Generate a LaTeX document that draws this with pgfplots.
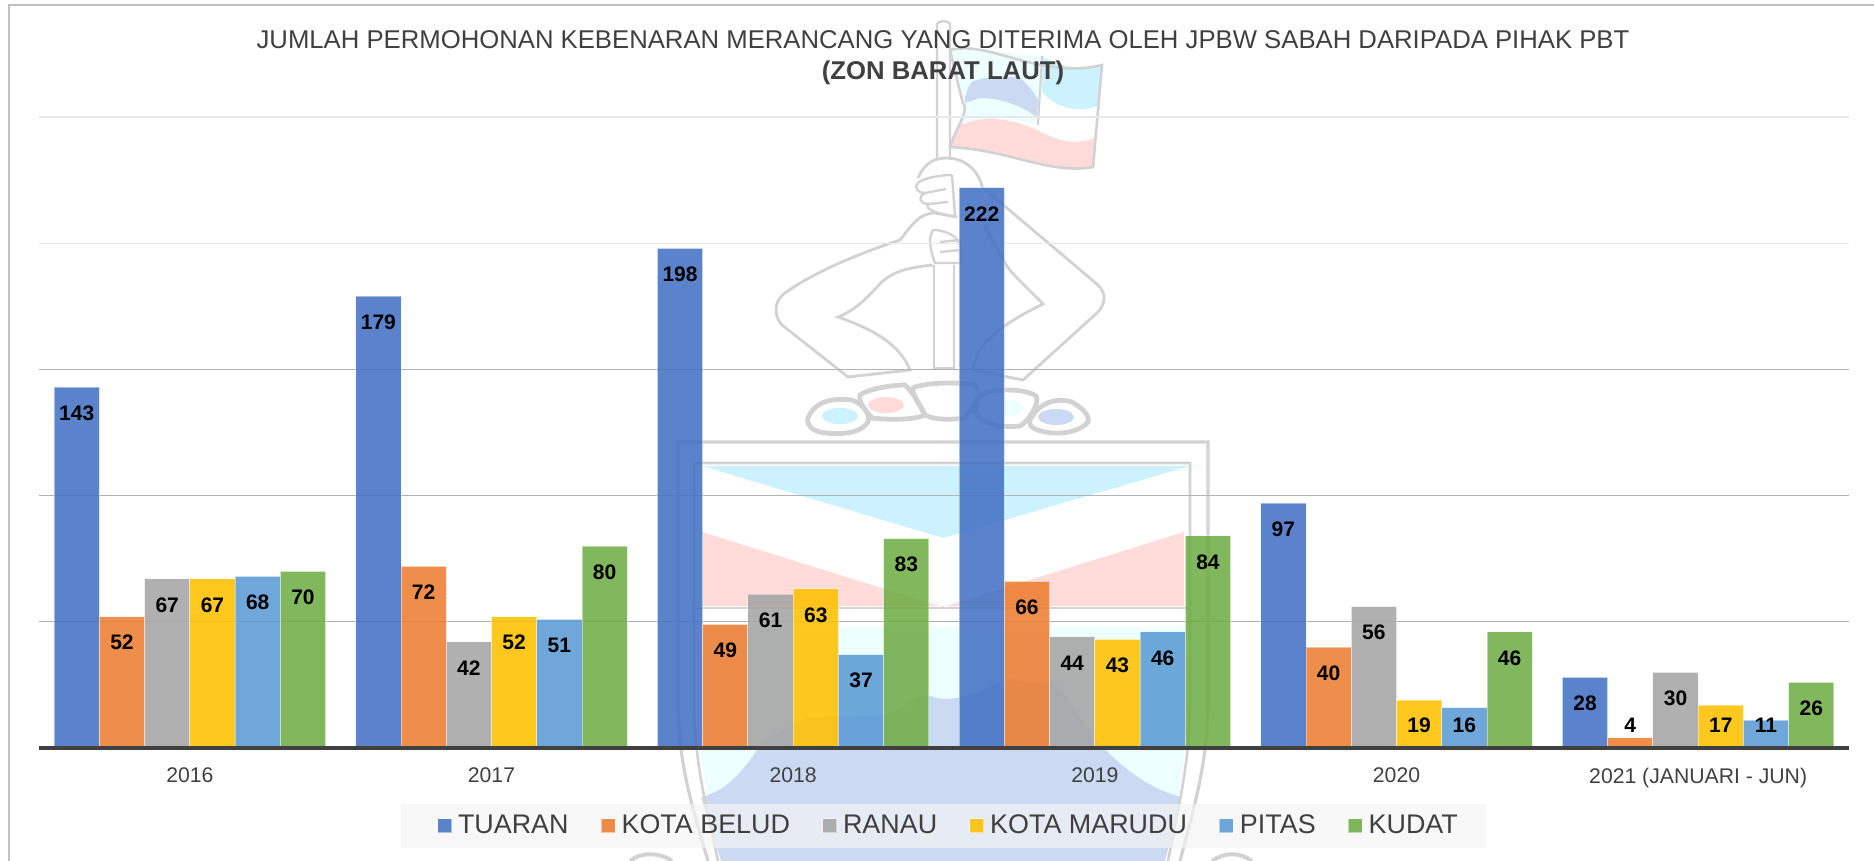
\documentclass[border=0pt]{standalone}
\usepackage{pgfplots}
\pgfplotsset{compat=1.18}
\usepackage{fontspec}
\setmainfont{Liberation Sans}
\definecolor{txt}{HTML}{404040}
\definecolor{cTua}{HTML}{4472C4}
\definecolor{cBel}{HTML}{ED7D31}
\definecolor{cRan}{HTML}{A5A5A5}
\definecolor{cMar}{HTML}{FFC000}
\definecolor{cPit}{HTML}{5B9BD5}
\definecolor{cKud}{HTML}{70AD47}
\definecolor{wl}{HTML}{D2D2D2}
\definecolor{wsky}{HTML}{CCF2FF}
\definecolor{wpink}{HTML}{FFDCDA}
\definecolor{wcy}{HTML}{EEFFFF}
\definecolor{wblue}{HTML}{CBD9F3}
\pgfplotsset{
  sq/.style={legend image code/.code={\fill[##1,draw=white,draw opacity=0.5,line width=0.5pt] (0pt,-3.5pt) rectangle (7pt,3.5pt); \path (8pt,0pt);}},
  sqfirst/.style={legend image code/.code={\fill[##1,draw=white,draw opacity=0.5,line width=0.5pt] (0pt,-3.5pt) rectangle (7pt,3.5pt); \path (-6pt,0pt) (8pt,0pt);}},
  barsty/.style={sq,fill=#1,fill opacity=0.88,draw=white,draw opacity=0.45,line width=0.5pt,text opacity=1}
}
\begin{document}
\begin{tikzpicture}[x=0.5pt,y=-0.5pt]
\path[use as bounding box] (0,0) rectangle (1874,861);
% watermark emblem
\begin{scope}
\clip (0,0) rectangle (1874,861);
% shield interior
\fill[wcy] (702,627) -- (1184,627) -- (1188,700) .. controls (1186,760) and (1178,810) .. (1165,861) -- (721,861) .. controls (708,810) and (700,760) .. (698,700) -- cycle;
\fill[wblue] (701,797) .. controls (725,792) and (742,772) .. (755,753) .. controls (765,738) and (772,733) .. (778,733) .. controls (790,728) and (800,717) .. (814,717) .. controls (850,716) and (880,716) .. (893,713) .. controls (905,705) and (918,695) .. (928,695) .. controls (940,700) and (948,699) .. (956,698) .. controls (980,695) and (1000,680) .. (1010,678) .. controls (1025,684) and (1045,680) .. (1059,685) .. controls (1070,700) and (1090,735) .. (1106,750) .. controls (1130,775) and (1155,790) .. (1181,797) -- (1165,861) -- (721,861) -- cycle;
\fill[wsky] (702,466) -- (1190,466) -- (943,538) -- cycle;
\fill[wpink] (702,532) -- (943,607) -- (1184,532) -- (1184,606) -- (702,606) -- cycle;
% shield lines
\draw[wl,line width=1.6pt] (708,861) .. controls (690,800) and (678,760) .. (678,700) -- (678,442) -- (1208,442) -- (1208,700) .. controls (1208,760) and (1196,800) .. (1180,861);
\draw[wl,line width=1.3pt] (718,861) .. controls (705,800) and (694,760) .. (694,700) -- (694,463) -- (1190,463) -- (1190,700) .. controls (1190,760) and (1180,800) .. (1168,861);
\draw[wl,line width=1.3pt] (694,608) -- (1190,608);
\draw[wl,line width=2pt] (630,861) .. controls (640,852) and (660,852) .. (672,861);
\draw[wl,line width=2pt] (1212,861) .. controls (1224,852) and (1240,852) .. (1252,861);
% stones
\draw[wl,line width=2.4pt] (808,418) .. controls (815,400) and (835,398) .. (852,400) .. controls (865,405) and (870,415) .. (868,422) .. controls (860,435) and (835,435) .. (820,432) .. controls (812,430) and (806,425) .. (808,418) -- cycle;
\draw[wl,line width=2.4pt] (860,395) .. controls (870,388) and (895,385) .. (905,385) .. controls (915,395) and (920,405) .. (925,415) .. controls (915,420) and (890,420) .. (872,418) .. controls (865,410) and (858,402) .. (860,395) -- cycle;
\draw[wl,line width=2.4pt] (913,388) .. controls (925,382) and (960,382) .. (975,385) .. controls (985,392) and (970,412) .. (965,418) .. controls (950,420) and (935,420) .. (925,415) .. controls (920,405) and (912,395) .. (913,388) -- cycle;
\draw[wl,line width=2.4pt] (980,396) .. controls (990,388) and (1025,388) .. (1036,396) .. controls (1040,402) and (1030,420) .. (1020,426) .. controls (1000,428) and (985,425) .. (977,415) .. controls (974,408) and (976,400) .. (980,396) -- cycle;
\draw[wl,line width=2.4pt] (1030,420) .. controls (1040,400) and (1060,398) .. (1072,402) .. controls (1082,408) and (1090,415) .. (1088,422) .. controls (1080,432) and (1060,435) .. (1045,432) .. controls (1037,430) and (1028,428) .. (1030,420) -- cycle;
\fill[wsky] (840,416) ellipse (18 and 8);
\fill[wpink] (886,405) ellipse (18 and 8);
\fill[wcy] (1010,408) ellipse (14 and 8);
\fill[wblue] (1056,417) ellipse (18 and 8);
% flag
\fill[white] (950,50) .. controls (990,40) and (1040,80) .. (1102,65) -- (1093,167) .. controls (1050,175) and (1010,150) .. (950,147) .. controls (955,130) and (970,110) .. (963,103) .. controls (958,85) and (955,70) .. (950,50) -- cycle;
\fill[wcy] (950,50) .. controls (980,45) and (1015,55) .. (1042,56) -- (1038,125) .. controls (1020,120) and (990,115) .. (960,125) .. controls (962,115) and (968,110) .. (963,103) .. controls (958,85) and (955,70) .. (950,50) -- cycle;
\fill[wblue] (965,98) .. controls (968,85) and (972,80) .. (977,80) .. controls (990,76) and (1010,76) .. (1020,78) .. controls (1028,85) and (1034,92) .. (1038,100) -- (1037,117) .. controls (1020,105) and (1000,98) .. (980,98) -- (965,103) -- cycle;
\fill[wsky] (1042,56) .. controls (1060,68) and (1085,70) .. (1102,65) -- (1098,105) .. controls (1085,112) and (1060,112) .. (1042,92) -- cycle;
\fill[wpink] (960,125) .. controls (985,115) and (1010,118) .. (1037,130) .. controls (1060,142) and (1075,145) .. (1095,138) -- (1093,167) .. controls (1050,175) and (1010,150) .. (950,147) -- cycle;
\draw[wl,line width=1.3pt] (950,50) .. controls (990,40) and (1040,80) .. (1102,65) -- (1093,167) .. controls (1050,175) and (1010,150) .. (950,147) .. controls (955,130) and (970,110) .. (963,103) .. controls (958,85) and (955,70) .. (950,50) -- cycle;
\draw[wl,line width=1pt] (1042,56) -- (1038,125);
% pole
\draw[wl,line width=1.2pt] (937,160) -- (937,25) .. controls (937,20) and (950,20) .. (950,25) -- (950,160);
\draw[wl,line width=1.2pt] (934,265) -- (934,368) -- (954,368) -- (954,265);
% fist and hands
\draw[wl,line width=1.4pt] (918,178) .. controls (925,162) and (935,158) .. (947,158) .. controls (962,158) and (978,168) .. (982,187);
\draw[wl,line width=1.2pt] (952,175) .. controls (940,175) and (925,178) .. (919,182) .. controls (913,187) and (917,193) .. (925,193) .. controls (917,197) and (920,204) .. (928,204) .. controls (925,208) and (932,213) .. (957,217);
\draw[wl,line width=1.2pt] (925,193) -- (946,189) (928,204) -- (948,202) (952,175) -- (955,215);
\draw[wl,line width=1.2pt] (933,230) .. controls (945,230) and (958,236) .. (960,245) -- (960,263) -- (935,263) .. controls (930,250) and (928,238) .. (933,230) -- cycle;
\draw[wl,line width=1.2pt] (940,242) -- (960,240) (940,252) -- (960,250);
% arms
\draw[wl,line width=1.4pt] (933,265) .. controls (905,268) and (890,272) .. (877,287) .. controls (865,300) and (855,310) .. (838,317) .. controls (875,330) and (900,345) .. (910,370) -- (848,377) -- (782,325) .. controls (775,318) and (772,302) .. (785,293) .. controls (820,268) and (870,250) .. (900,240) .. controls (910,228) and (918,213) .. (935,213) -- (957,217);
\draw[wl,line width=1.4pt] (982,187) -- (1098,285) .. controls (1108,295) and (1104,305) .. (1098,312) -- (1023,380) -- (973,370) .. controls (975,345) and (1000,325) .. (1043,304) .. controls (1030,290) and (1012,275) .. (1005,263) .. controls (1000,250) and (990,240) .. (985,225);
\end{scope}
% frame
\draw[color=black!25,line width=1pt] (9,861) -- (9,5) -- (1874,5);
% title
\node[text=txt,font=\fontsize{12.85}{15}\selectfont] at (943,40) {JUMLAH PERMOHONAN KEBENARAN MERANCANG YANG DITERIMA OLEH JPBW SABAH DARIPADA PIHAK PBT};
\node[text=txt,font=\fontsize{12.85}{15}\selectfont\bfseries] at (943,72.5) {(ZON BARAT LAUT)};
\coordinate (O) at (39,748);
\begin{axis}[
  at={(O)}, anchor=south west, scale only axis,
  width=905pt, height=315.5pt,
  xmin=-0.5, xmax=5.5, ymin=0, ymax=250,
  ybar=0pt, bar width=0.15,
  clip=false,
  axis x line=bottom, axis y line=left,
  x axis line style={-,draw=none},
  y axis line style={-,draw=none},
  xtick={0,1,2,3,4,5},
  xticklabels={2016,2017,2018,2019,2020,2021 (JANUARI - JUN)},
  xtick style={draw=none},
  ytick style={draw=none},
  major tick length=0pt,
  xticklabel style={text=txt,font=\fontsize{10.6}{12}\selectfont,yshift=-6.5pt},
  ytick={200,250},
  extra y ticks={50,100,150},
  extra y tick labels={},
  extra y tick style={grid=major,major grid style={color=black!30,line width=0.6pt}},
  yticklabels={},
  ymajorgrids,
  major grid style={color=black!9,line width=0.7pt},
  point meta=y,
  visualization depends on={0.5*(max(y*2.524-26,23)-y*2.524) \as \labshift},
  nodes near coords={\pgfmathprintnumber[assume math mode=true]{\pgfplotspointmeta}},
  every node near coord/.append style={anchor=center,yshift=\labshift pt,text=black,text opacity=1,fill opacity=1,font=\fontsize{10.5}{12}\selectfont\bfseries},
  legend columns=6,
  legend style={at={(0.4997,-0.1236)},anchor=center,draw=none,fill=black!4,fill opacity=0.65,text opacity=1,
    inner xsep=12pt,inner ysep=3.5pt,font=\fontsize{13.45}{15}\selectfont,text=txt,
    /tikz/every even column/.append style={column sep=14pt},
    /tikz/column 12/.style={column sep=0pt}},
  legend cell align=left,
]
\addplot[barsty=cTua,sqfirst] coordinates {(0,143) (1,179) (2,198) (3,222) (4,97) (5,28)};
\addplot[barsty=cBel] coordinates {(0,52) (1,72) (2,49) (3,66) (4,40) (5,4)};
\addplot[barsty=cRan] coordinates {(0,67) (1,42) (2,61) (3,44) (4,56) (5,30)};
\addplot[barsty=cMar] coordinates {(0,67) (1,52) (2,63) (3,43) (4,19) (5,17)};
\addplot[barsty=cPit] coordinates {(0,68) (1,51) (2,37) (3,46) (4,16) (5,11)};
\addplot[barsty=cKud] coordinates {(0,70) (1,80) (2,83) (3,84) (4,46) (5,26)};
\legend{TUARAN,KOTA BELUD,RANAU,KOTA MARUDU,PITAS,KUDAT}
\draw[color=txt,line width=2pt] (axis cs:-0.5,0) -- (axis cs:5.5,0);
\end{axis}
\end{tikzpicture}
\end{document}
